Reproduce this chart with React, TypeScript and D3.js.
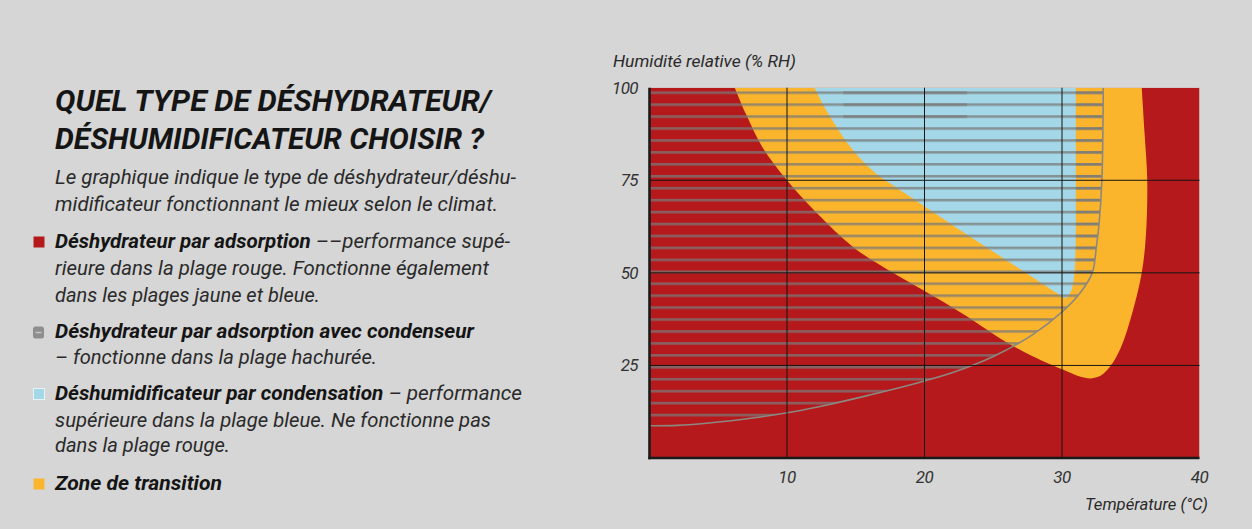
import * as d3 from "d3";

// ---- chart values (temperature °C, humidité %RH) ----
const tempTicks = [10, 20, 30, 40];
const rhTicks = [25, 50, 75, 100];

// zone de transition (jaune): bord gauche du haut vers la pointe, puis bord droit vers le haut
const yellowEdge: [number, number][] = [
  [6.2, 100], [7.0, 93], [8.2, 84], [10, 75], [12.2, 66], [14.8, 57], [17.7, 50],
  [20.7, 43.6], [23.1, 38.2], [25.5, 32.3], [27.9, 27.4], [30.1, 23.8], [31.3, 22],
  [32.1, 21.5], [32.8, 22.2], [33.5, 24.7], [34.3, 30], [35.1, 39], [35.8, 50],
  [36.1, 60], [36.2, 75], [36.0, 88], [35.8, 100],
];

// plage bleue (déshumidificateur par condensation)
const blueEdge: [number, number][] = [
  [12, 100], [13, 93], [14.5, 84.5], [16.4, 77], [18.3, 72.2], [20.4, 67], [22.4, 62],
  [24.3, 57.4], [26.3, 52.6], [28.2, 48], [29.6, 44.6], [30.3, 43.2], [30.7, 45.5],
  [30.9, 50], [31, 60], [31, 75], [31, 100],
];

// limite de la plage hachurée (adsorption avec condenseur)
const hatchEdge: [number, number][] = [
  [0, 8.7], [2, 8.8], [4.5, 9.5], [7.5, 10.8], [10, 12.2], [13, 14.4], [16, 17],
  [19, 19.8], [22, 23], [25, 27.4], [27.9, 33.4], [29.9, 39.1], [31.3, 44.5],
  [32.2, 50], [32.5, 57], [32.7, 63.4], [32.9, 75], [33, 100],
];

// bandes où les hachures se superposent (plus foncées)
const darkHatch: [number, number][][] = [
  [[14.1, 100], [23.1, 100], [23.1, 90.6], [14.1, 90.6]],
  [[31, 100], [33.2, 100], [33.2, 48], [31, 48]],
];

const hatchFirst = 98.65; // première ligne hachurée (%RH)
const hatchStep = 3.224; // écart entre lignes (%RH)

const titleLines = ["QUEL TYPE DE DÉSHYDRATEUR/", "DÉSHUMIDIFICATEUR CHOISIR ?"];
const introLines = [
  "Le graphique indique le type de déshydrateur/déshu-",
  "midificateur fonctionnant le mieux selon le climat.",
];
const legendItems = [
  {
    key: "red",
    lines: [
      ["Déshydrateur par adsorption", " ––performance supé-"],
      ["", "rieure dans la plage rouge. Fonctionne également"],
      ["", "dans les plages jaune et bleue."],
    ],
  },
  {
    key: "hatch",
    lines: [
      ["Déshydrateur par adsorption avec condenseur", ""],
      ["", "– fonctionne dans la plage hachurée."],
    ],
  },
  {
    key: "blue",
    lines: [
      ["Déshumidificateur par condensation", " – performance"],
      ["", "supérieure dans la plage bleue. Ne fonctionne pas"],
      ["", "dans la plage rouge."],
    ],
  },
  { key: "yellow", lines: [["Zone de transition", ""]] },
];

// ---- layout ----
const W = 1252;
const H = 529;
const C = {
  bg: "#d6d6d6",
  red: "#b5191b",
  yellow: "#fbb52c",
  blue: "#a4d8e8",
  hatch: "#7a7a7a",
  ink: "#151515",
  text: "#2a2a2a",
};
const FONT = "Roboto, 'Open Sans', 'DejaVu Sans', sans-serif";

// widths measured on the reference, used to fit the lines
const titleW = [436, 429];
const introW = [461, 443];
const legendW = [[455, 434, 265], [419, 322], [467, 436, 175], [167]];
const legendY = [[248, 275, 302], [338, 364], [400, 427, 452], [490]];

const x = d3.scaleLinear().domain([0, 40]).range([649.5, 1199.5]);
const y = d3.scaleLinear().domain([0, 100]).range([458, 87.7]);

const edge = d3
  .line<[number, number]>()
  .x((d) => x(d[0]))
  .y((d) => y(d[1]))
  .curve(d3.curveCatmullRom.alpha(0.5));

const poly = d3
  .line<[number, number]>()
  .x((d) => x(d[0]))
  .y((d) => y(d[1]));

function Swatch({ kind, top }: { kind: string; top: number }) {
  if (kind === "hatch")
    return (
      <g>
        <rect x={33} y={top} width={11} height={12} rx={2.5} fill="#8e8e8e" />
        <line x1={35.5} x2={41.5} y1={top + 6} y2={top + 6} stroke="#c4c4c4" strokeWidth={1.5} />
      </g>
    );
  const fill = kind === "red" ? C.red : kind === "blue" ? C.blue : C.yellow;
  return (
    <rect
      x={33.5}
      y={top}
      width={11}
      height={11}
      fill={fill}
      stroke={kind === "blue" ? "#e6f3f7" : "none"}
      strokeWidth={1}
    />
  );
}

export default function App() {
  const stripePx = y(0) - y(hatchStep);
  const stripeY = y(hatchFirst) - 1.3;
  const hatchPath = edge(hatchEdge) + `L${x(0)},${y(100)}Z`;

  return (
    <svg
      width={W}
      height={H}
      style={{ position: "absolute", left: 0, top: 0, display: "block" }}
      fontFamily={FONT}
    >
      <defs>
        <pattern
          id="stripes"
          patternUnits="userSpaceOnUse"
          x={0}
          y={stripeY}
          width={W}
          height={stripePx}
        >
          <rect x={0} y={0} width={W} height={2.6} fill={C.hatch} fillOpacity={0.74} />
        </pattern>
        <clipPath id="plot">
          <rect x={x(0)} y={y(100)} width={x(40) - x(0)} height={y(0) - y(100)} />
        </clipPath>
        <clipPath id="hatchClip">
          <path d={hatchPath} />
        </clipPath>
      </defs>

      <rect width={W} height={H} fill={C.bg} />

      {/* texte de gauche */}
      {titleLines.map((t, i) => (
        <text
          key={t}
          x={55}
          y={111 + i * 37.5}
          fontSize={30}
          fontWeight={700}
          fontStyle="italic"
          fill={C.ink}
          textLength={titleW[i]}
          lengthAdjust="spacingAndGlyphs"
        >
          {t}
        </text>
      ))}
      {introLines.map((t, i) => (
        <text
          key={t}
          x={55}
          y={184 + i * 27}
          fontSize={20}
          fontStyle="italic"
          fill={C.text}
          textLength={introW[i]}
          lengthAdjust="spacingAndGlyphs"
        >
          {t}
        </text>
      ))}
      {legendItems.map((it, k) => (
        <g key={it.key}>
          <Swatch kind={it.key} top={legendY[k][0] - 11.5} />
          {it.lines.map(([b, r], j) => (
            <text
              key={j}
              x={55}
              y={legendY[k][j]}
              fontSize={20}
              fontStyle="italic"
              fill={C.text}
              textLength={legendW[k][j]}
              lengthAdjust="spacingAndGlyphs"
            >
              {b && (
                <tspan fontWeight={700} fill={C.ink}>
                  {b}
                </tspan>
              )}
              {r && <tspan>{r}</tspan>}
            </text>
          ))}
        </g>
      ))}

      {/* zones */}
      <g clipPath="url(#plot)">
        <rect x={x(0)} y={y(100)} width={x(40) - x(0)} height={y(0) - y(100)} fill={C.red} />
        <path d={edge(yellowEdge) + "Z"} fill={C.yellow} />
        <path d={edge(blueEdge) + "Z"} fill={C.blue} />
        <path d={hatchPath} fill="url(#stripes)" />
        <g clipPath="url(#hatchClip)">
          {darkHatch.map((p, i) => (
            <path key={i} d={poly(p) + "Z"} fill="url(#stripes)" />
          ))}
        </g>
        <path d={edge(hatchEdge) ?? ""} fill="none" stroke="#8c8880" strokeWidth={1.6} />
      </g>

      {/* grille */}
      {tempTicks.slice(0, 3).map((t) => (
        <line key={t} x1={x(t)} x2={x(t)} y1={y(100)} y2={y(0)} stroke={C.ink} strokeWidth={1} />
      ))}
      {rhTicks.slice(0, 3).map((t) => (
        <line key={t} x1={x(0)} x2={x(40)} y1={y(t)} y2={y(t)} stroke={C.ink} strokeWidth={1} />
      ))}
      <line x1={x(0)} x2={x(0)} y1={y(100)} y2={y(0) + 1.2} stroke="#1a1a1a" strokeWidth={2.6} />
      <line x1={x(0) - 1.2} x2={x(40)} y1={y(0)} y2={y(0)} stroke="#1a1a1a" strokeWidth={2.6} />

      {/* graduations */}
      {rhTicks.map((t) => (
        <text
          key={t}
          x={638}
          y={y(t) + 6}
          textAnchor="end"
          fontSize={17}
          fontStyle="italic"
          fill="#333"
          letterSpacing={-0.6}
        >
          {t}
        </text>
      ))}
      {tempTicks.map((t) => (
        <text
          key={t}
          x={x(t)}
          y={483}
          textAnchor="middle"
          fontSize={17}
          fontStyle="italic"
          fill="#333"
          letterSpacing={-0.6}
        >
          {t}
        </text>
      ))}
      <text
        x={613}
        y={67}
        fontSize={16}
        fontStyle="italic"
        fill="#2a2a2a"
        textLength={183}
        lengthAdjust="spacingAndGlyphs"
      >
        Humidité relative (% RH)
      </text>
      <text
        x={1085}
        y={510}
        fontSize={17}
        fontStyle="italic"
        fill="#2a2a2a"
        textLength={123}
        lengthAdjust="spacingAndGlyphs"
      >
        Température (°C)
      </text>
    </svg>
  );
}
